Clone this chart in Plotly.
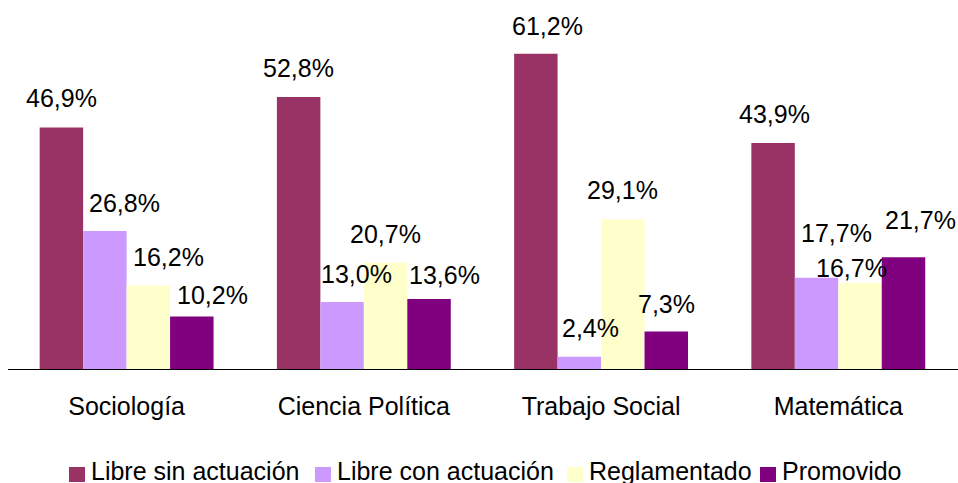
import plotly.graph_objects as go

categories = ["Sociología", "Ciencia Política", "Trabajo Social", "Matemática"]
series_names = ["Libre sin actuación", "Libre con actuación", "Reglamentado", "Promovido"]
libre_sin = [46.9, 52.8, 61.2, 43.9]
libre_con = [26.8, 13.0, 2.4, 17.7]
reglamentado = [16.2, 20.7, 29.1, 16.7]
promovido = [10.2, 13.6, 7.3, 21.7]
series_values = [libre_sin, libre_con, reglamentado, promovido]

colors = ["#993366", "#CC99FF", "#FFFFCC", "#800080"]

# label nudges in pixels (style only): [series][category]
label_dx = [[0, 0, 12, 1], [20, 14, 11, 20], [20, 0, 0, -9], [21, 15, 0, 17]]
label_gap = [[20, 20, 19, 20], [19, 19, 20, 36], [20, 19, 20, 6], [12, 15, 18, 28]]

# legend layout (pixels, style only)
legend_text_x = [92, 338, 590, 783]
legend_text_y = 471
legend_text_pad = 3
legend_box_y = (467, 482)
legend_box_dx = (-23, -7)

W, H = 958, 483
ML, MT, MB = 8, 0, 114
PW, PH = W - ML, H - MT - MB

FONT = "Arial, Liberation Sans, sans-serif"
bargap = 0.267
nser = len(series_values)
bw = (1 - bargap) / nser


def px_x(p):
    return (p - ML) / PW


def px_y(p):
    return (MT + PH - p) / PH


fig = go.Figure()
annotations = []
shapes = []
for j, (name, vals) in enumerate(zip(series_names, series_values)):
    fig.add_trace(go.Bar(
        x=categories, y=vals, name=name, showlegend=False,
        marker=dict(color=colors[j], line=dict(width=0)),
    ))
    for i, v in enumerate(vals):
        annotations.append(dict(
            x=i + (j - (nser - 1) / 2) * bw, y=v, xref="x", yref="y",
            text=f"{v:.1f}%".replace(".", ","),
            showarrow=False, yanchor="bottom", xanchor="center",
            xshift=label_dx[j][i], yshift=label_gap[j][i] - 7,
            font=dict(family=FONT, size=25, color="black"),
        ))
    # legend entry
    tx = legend_text_x[j]
    annotations.append(dict(
        x=px_x(tx), y=px_y(legend_text_y), xref="paper", yref="paper",
        xshift=-legend_text_pad,
        text=name, showarrow=False, xanchor="left", yanchor="middle",
        font=dict(family=FONT, size=25, color="black"),
    ))
    shapes.append(dict(
        type="rect", xref="paper", yref="paper",
        x0=px_x(tx + legend_box_dx[0]), x1=px_x(tx + legend_box_dx[1]),
        y0=px_y(legend_box_y[1]), y1=px_y(legend_box_y[0]),
        fillcolor=colors[j], line=dict(width=0), layer="above",
    ))

fig.update_layout(
    width=W, height=H,
    margin=dict(l=ML, r=0, t=MT, b=MB, autoexpand=False),
    barmode="group", bargap=bargap, bargroupgap=0,
    plot_bgcolor="white", paper_bgcolor="white",
    font=dict(family=FONT, size=25, color="black"),
    annotations=annotations,
    shapes=shapes,
    showlegend=False,
    xaxis=dict(
        type="category", showline=True, linecolor="black", linewidth=1,
        showgrid=False, ticks="", ticklabelstandoff=15, automargin=False,
        tickfont=dict(family=FONT, size=25, color="black"),
    ),
    yaxis=dict(
        range=[0, PH / 5.15], visible=False, showgrid=False, zeroline=False,
        automargin=False,
    ),
)

fig.write_html(
    "out.html",
    config={"displayModeBar": False},
    post_script="document.body.style.margin='0';document.body.style.padding='0';",
)
